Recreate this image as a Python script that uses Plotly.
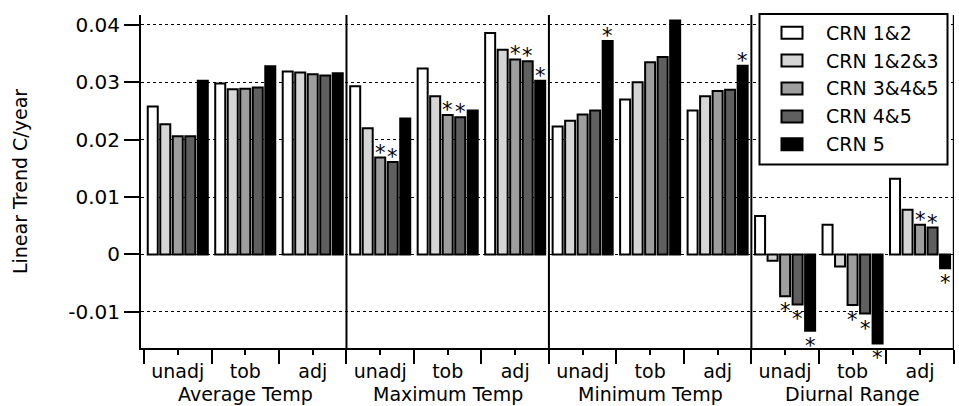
import plotly.graph_objects as go

# ---- data ----
series_names = ["CRN 1&2", "CRN 1&2&3", "CRN 3&4&5", "CRN 4&5", "CRN 5"]
series_colors = ["#ffffff", "#d6d6d6", "#9e9e9e", "#5f5f5f", "#000000"]

group_labels = ["unadj", "tob", "adj"] * 4
panel_labels = ["Average Temp", "Maximum Temp", "Minimum Temp", "Diurnal Range"]

crn12 = [0.0258, 0.0298, 0.0319, 0.0293, 0.0324, 0.0386, 0.0223, 0.0270, 0.0251, 0.0067, 0.0052, 0.0132]
crn123 = [0.0227, 0.0288, 0.0317, 0.0220, 0.0276, 0.0357, 0.0233, 0.0300, 0.0276, -0.0011, -0.0021, 0.0078]
crn345 = [0.0206, 0.0289, 0.0314, 0.0169, 0.0243, 0.0340, 0.0244, 0.0335, 0.0285, -0.0073, -0.0088, 0.0052]
crn45 = [0.0206, 0.0291, 0.0312, 0.0161, 0.0239, 0.0337, 0.0251, 0.0344, 0.0287, -0.0087, -0.0103, 0.0047]
crn5 = [0.0303, 0.0328, 0.0316, 0.0237, 0.0251, 0.0303, 0.0372, 0.0408, 0.0329, -0.0133, -0.0155, -0.0024]

# significance flags (asterisks)
star12 = [0] * 12
star123 = [0] * 12
star345 = [0, 0, 0, 1, 1, 1, 0, 0, 0, 1, 1, 1]
star45 = [0, 0, 0, 1, 1, 1, 0, 0, 0, 1, 1, 1]
star5 = [0, 0, 0, 0, 0, 1, 1, 0, 1, 1, 1, 1]

ytick_vals = [-0.01, 0, 0.01, 0.02, 0.03, 0.04]
ytick_text = ["-0.01", "0", "0.01", "0.02", "0.03", "0.04"]

values = [crn12, crn123, crn345, crn45, crn5]
stars = [star12, star123, star345, star45, star5]

FONT = "DejaVu Sans"
W, H = 959, 406
ML, MR, MT, MB = 141, 5, 15, 58
PW, PH = W - ML - MR, H - MT - MB


def px2paper(px, py):
    return (px - ML) / PW, (H - MB - py) / PH


groups = list(range(len(group_labels)))
bargap = 0.073
nser = len(series_names)
slot = (1 - bargap) / nser

fig = go.Figure()
for name, col, vals in zip(series_names, series_colors, values):
    fig.add_trace(go.Bar(
        x=groups, y=vals, name=name, showlegend=False,
        marker=dict(color=col, line=dict(color="black", width=2)),
    ))

# asterisks marking significant trends (placed at each flagged bar's end)
for k, (vals, st) in enumerate(zip(values, stars)):
    for g, (v, s) in enumerate(zip(vals, st)):
        if s:
            fig.add_annotation(
                x=g + (k - (nser - 1) / 2) * slot, y=v, xref="x", yref="y",
                text="*", showarrow=False, xanchor="center", yanchor="middle",
                yshift=5 if v >= 0 else -15,
                font=dict(family=FONT, size=21, color="black"),
            )

# panel dividers and right border
for b in [2.5, 5.5, 8.5, 11.5]:
    fig.add_shape(type="line", xref="x", yref="paper", x0=b, x1=b, y0=0, y1=1,
                  line=dict(color="black", width=2))

# panel labels
for i, lab in enumerate(panel_labels):
    fig.add_annotation(x=3 * i + 1, y=-0.138, xref="x", yref="paper", text=lab,
                       showarrow=False, xanchor="center", yanchor="middle",
                       font=dict(family=FONT, size=19, color="black"))

# legend (box, swatches, labels)
bx0, by0 = px2paper(759.5, 164.5)
bx1, by1 = px2paper(947.5, 14)
fig.add_shape(type="rect", xref="paper", yref="paper", x0=bx0, y0=by0, x1=bx1, y1=by1,
              line=dict(color="black", width=2), fillcolor="white", layer="above")
for i, (name, col) in enumerate(zip(series_names, series_colors)):
    cy = 32.7 + 27.9 * i
    sx0, sy0 = px2paper(781.5, cy + 6)
    sx1, sy1 = px2paper(802.5, cy - 6)
    fig.add_shape(type="rect", xref="paper", yref="paper", x0=sx0, y0=sy0, x1=sx1, y1=sy1,
                  line=dict(color="black", width=2), fillcolor=col, layer="above")
    tx, ty = px2paper(824, cy)
    fig.add_annotation(x=tx, y=ty, xref="paper", yref="paper", text=name, showarrow=False,
                       xanchor="left", yanchor="middle",
                       font=dict(family=FONT, size=19, color="black"))

fig.update_layout(
    width=W, height=H,
    margin=dict(l=ML, r=MR, t=MT, b=MB),
    paper_bgcolor="white", plot_bgcolor="white",
    barmode="group", bargap=bargap, bargroupgap=0.2,
    font=dict(family=FONT, size=19, color="black"),
    showlegend=False,
    xaxis=dict(
        range=[-0.545, 11.503], tickmode="array", tickvals=groups, ticktext=group_labels,
        ticks="outside", ticklen=5, tickwidth=2, tickcolor="black",
        showline=True, linewidth=2, linecolor="black", showgrid=False, zeroline=False,
        tickfont=dict(family=FONT, size=19, color="black"),
        minor=dict(tickmode="linear", tick0=-0.5, dtick=1, ticks="outside", ticklen=14,
                   tickwidth=2, tickcolor="black", showgrid=False),
    ),
    yaxis=dict(
        range=[-0.0163, 0.04174], tickmode="array", tickvals=ytick_vals, ticktext=ytick_text,
        ticks="outside", ticklen=15, tickwidth=2, tickcolor="black",
        showline=True, linewidth=2, linecolor="black",
        showgrid=True, gridcolor="black", griddash="dot", gridwidth=1, zeroline=False,
        tickfont=dict(family=FONT, size=20, color="black"),
        title=dict(text="Linear Trend C/year", font=dict(family=FONT, size=19, color="black"), standoff=36),
    ),
)

fig.write_html("out.html", config={"displayModeBar": False},
               post_script="document.body.style.margin='0';")
